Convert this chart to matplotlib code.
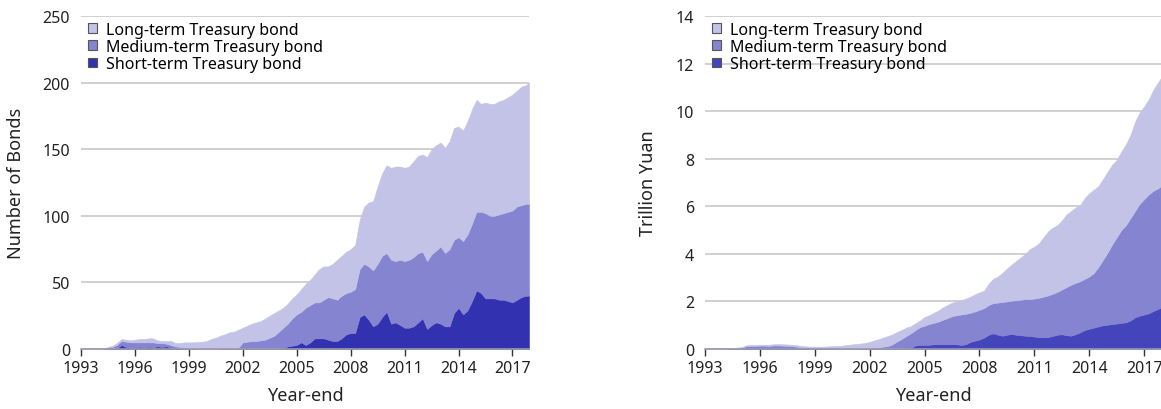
import numpy as np
import matplotlib
matplotlib.use("Agg")
import matplotlib.pyplot as plt
from matplotlib.patches import Patch

plt.rcParams['font.family'] = ['Noto Sans', 'DejaVu Sans']

# quarterly dates (year fraction), last point is the end of 2017
dates = list(np.arange(1993.0, 2017.76, 0.25)) + [2017.92]

# Number of bonds, by maturity layer
bonds_short = [
    0, 0, 0, 0, 0, 0, 0, 0,
    0.5, 3, 1.5, 1, 1, 1.5, 1, 1.5, 1, 2, 1.5, 2,
    1, 0.5, 0.3, 0, 0, 0, 0, 0, 0, 0, 0, 0,
    0, 0, 0, 0, 0, 0, 0, 0, 0, 0, 0, 0,
    0, 0.5, 2, 2.5, 3, 5, 3, 5, 8, 8, 8, 7,
    6, 6, 8, 11, 12, 12, 24, 26, 22, 17, 19, 24,
    28, 19, 20, 18, 16, 16, 17, 20, 23, 15, 18, 20,
    19, 17, 17, 27, 31, 26, 29, 36, 44, 42, 38, 38,
    38, 37, 37, 36, 35, 37, 39, 40, 40]
bonds_medium = [
    0, 0, 0, 0, 0, 0.3, 1, 1.5,
    2.5, 3, 4, 4, 4, 3.5, 4, 3.5, 4, 2.5, 3, 2,
    2, 1.5, 1.2, 1, 0.8, 0.6, 0.3, 0.2, 0.2, 0.2, 0.2, 0.5,
    0.6, 0.6, 0.6, 1, 5, 5.5, 6, 6, 6.5, 7, 8.5, 10,
    13, 15.5, 17, 20.5, 23, 23, 28, 28, 27, 27, 29, 32,
    32, 31, 32, 31, 31, 33, 36, 38, 40, 42, 45, 46,
    44, 48, 46, 49, 50, 51, 52, 52, 50, 51, 53, 54,
    58, 55, 58, 55, 53, 55, 57, 58, 59, 61, 64, 62,
    62, 64, 65, 67, 69, 70, 69, 69, 69]
bonds_long = [
    0, 0, 0, 0, 0.3, 0.3, 0.5, 1,
    1.5, 1.5, 1.5, 1.5, 2, 2.5, 2.5, 3, 3, 2, 1.5, 2,
    3, 2.5, 3, 4, 4.2, 4.4, 4.9, 5.3, 5.8, 7.3, 8.3, 9.5,
    10.4, 11.9, 12.4, 13.5, 11, 12, 13, 14, 14.5, 16, 16.5, 17,
    16, 15, 15, 15, 15, 17, 18, 19, 21, 25, 25, 23,
    26, 30, 30, 31, 32, 33, 37, 43, 48, 52, 58, 62,
    66, 69, 71, 70, 70, 70, 72, 73, 73, 78, 79, 79,
    78, 79, 81, 84, 83, 83, 85, 86, 84, 81, 83, 84,
    84, 85, 85, 86, 87, 87, 89, 89, 91]

# Outstanding amount, trillion yuan
yuan_short = [
    0, 0, 0, 0, 0, 0, 0, 0,
    0, 0.01, 0.02, 0.02, 0.03, 0.04, 0.03, 0.04, 0.04, 0.05, 0.05, 0.04,
    0.03, 0.01, 0.01, 0, 0, 0, 0, 0, 0, 0, 0, 0,
    0, 0, 0, 0, 0, 0, 0, 0, 0, 0, 0, 0,
    0, 0.05, 0.15, 0.17, 0.17, 0.18, 0.20, 0.20, 0.20, 0.20, 0.20, 0.20,
    0.17, 0.20, 0.30, 0.35, 0.40, 0.48, 0.60, 0.66, 0.60, 0.56, 0.60, 0.63,
    0.60, 0.58, 0.56, 0.55, 0.52, 0.50, 0.50, 0.50, 0.55, 0.60, 0.62, 0.58,
    0.56, 0.62, 0.70, 0.80, 0.85, 0.90, 0.95, 1.00, 1.02, 1.05, 1.07, 1.10,
    1.12, 1.20, 1.33, 1.40, 1.45, 1.50, 1.60, 1.68, 1.75]
yuan_medium = [
    0, 0, 0, 0, 0, 0.01, 0.02, 0.03,
    0.05, 0.11, 0.11, 0.11, 0.11, 0.10, 0.10, 0.11, 0.11, 0.09, 0.08, 0.08,
    0.07, 0.06, 0.05, 0.05, 0.05, 0.04, 0.03, 0.02, 0.02, 0.02, 0.02, 0.02,
    0.02, 0.02, 0.03, 0.04, 0.05, 0.06, 0.07, 0.10, 0.12, 0.20, 0.32, 0.42,
    0.55, 0.61, 0.65, 0.75, 0.81, 0.87, 0.90, 0.95, 1.03, 1.10, 1.18, 1.22,
    1.28, 1.28, 1.22, 1.23, 1.25, 1.24, 1.25, 1.27, 1.35, 1.42, 1.40, 1.40,
    1.45, 1.49, 1.54, 1.55, 1.60, 1.65, 1.70, 1.75, 1.77, 1.80, 1.88, 2.02,
    2.14, 2.16, 2.15, 2.15, 2.20, 2.30, 2.50, 2.75, 3.03, 3.35, 3.63, 3.90,
    4.08, 4.30, 4.47, 4.70, 4.85, 5.00, 5.05, 5.07, 5.10]
yuan_long = [
    0, 0, 0, 0, 0.01, 0.02, 0.02, 0.03,
    0.03, 0.03, 0.04, 0.04, 0.04, 0.04, 0.05, 0.05, 0.06, 0.06, 0.06, 0.06,
    0.06, 0.06, 0.05, 0.05, 0.05, 0.06, 0.07, 0.09, 0.10, 0.11, 0.12, 0.15,
    0.17, 0.19, 0.20, 0.21, 0.25, 0.30, 0.35, 0.38, 0.43, 0.42, 0.40, 0.38,
    0.35, 0.30, 0.28, 0.28, 0.37, 0.37, 0.42, 0.47, 0.52, 0.55, 0.57, 0.58,
    0.60, 0.64, 0.68, 0.72, 0.73, 0.73, 0.90, 1.02, 1.10, 1.22, 1.38, 1.52,
    1.65, 1.78, 1.90, 2.10, 2.18, 2.30, 2.50, 2.70, 2.78, 2.80, 2.90, 3.05,
    3.10, 3.17, 3.20, 3.40, 3.50, 3.50, 3.40, 3.40, 3.40, 3.35, 3.25, 3.30,
    3.40, 3.50, 3.75, 3.85, 3.90, 4.00, 4.25, 4.45, 4.55]

labels = ['Long-term Treasury bond', 'Medium-term Treasury bond', 'Short-term Treasury bond']
year_ticks = list(range(1993, 2018, 3))

c_long = '#c3c3e7'
c_med = '#8484d0'


def draw(ax, short, medium, long_, c_short, ymax, ystep, ylabel):
    polys = ax.stackplot(dates, short, medium, long_,
                         colors=[c_short, c_med, c_long], linewidth=0.4)
    for p, c in zip(polys, [c_short, c_med, c_long]):
        p.set_edgecolor(c)
    ax.set_xlim(1993, 2017.92)
    ax.set_ylim(0, ymax)
    ax.set_yticks(np.arange(0, ymax + ystep / 2, ystep))
    ax.set_xticks(year_ticks)
    ax.yaxis.grid(True, color='#c8c8c8', linewidth=1.2)
    ax.set_axisbelow(True)
    for s in ['top', 'right', 'left']:
        ax.spines[s].set_visible(False)
    ax.spines['bottom'].set_color('#9a9ab0')
    ax.spines['bottom'].set_linewidth(1.2)
    ax.spines['bottom'].set_zorder(5)
    ax.tick_params(axis='y', length=0, pad=8, labelsize=11.5, labelcolor='#222222')
    ax.tick_params(axis='x', length=5, width=1, color='#333333', pad=3,
                   labelsize=11.5, labelcolor='#222222')
    ax.set_xlabel('Year-end', fontsize=13, color='#222222')
    ax.set_ylabel(ylabel, fontsize=13, color='#222222')
    ax.xaxis.set_label_coords(0.5, -0.112)
    handles = [Patch(facecolor=c, edgecolor='#555555', linewidth=0.8)
               for c in [c_long, c_med, c_short]]
    ax.legend(handles, labels, loc='upper left', bbox_to_anchor=(0.008, 0.993),
              frameon=False, fontsize=11.5, handlelength=0.55, handleheight=0.55,
              handletextpad=0.6, labelspacing=0.08, borderaxespad=0.1,
              borderpad=0.1)


fig = plt.figure(figsize=(11.61, 4.10), dpi=100)
ax1 = fig.add_axes([81 / 1161, 60 / 410, 448 / 1161, 333 / 410])
ax2 = fig.add_axes([705 / 1161, 60 / 410, 456 / 1161, 333 / 410])

draw(ax1, bonds_short, bonds_medium, bonds_long, '#3232b0', 250, 50, 'Number of Bonds')
draw(ax2, yuan_short, yuan_medium, yuan_long, '#4545bb', 14, 2, 'Trillion Yuan')
ax1.yaxis.set_label_coords(-0.125, 0.5)
ax2.yaxis.set_label_coords(-0.105, 0.5)

fig.savefig('out.png', dpi=100)
